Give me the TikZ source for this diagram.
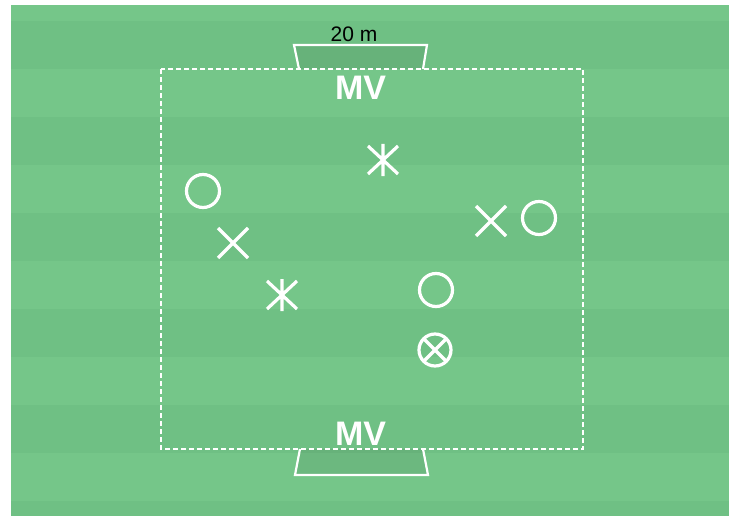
\documentclass[tikz,border=0pt]{standalone}
\usepackage{fontspec}
\setmainfont{Liberation Sans}
\usetikzlibrary{positioning}
\definecolor{pitchlight}{RGB}{117,198,137}
\definecolor{pitchdark}{RGB}{111,192,132}

\begin{document}
\begin{tikzpicture}[x=1pt, y=-1pt,
		player/.style={white, line width=3.2pt},
		goal/.style={draw=white, line width=2.2pt, fill=black, fill opacity=0.07},
		zone/.style={white, line width=1.3pt, dash pattern=on 5pt off 3pt},
		keeper/.style={white, font=\bfseries\fontsize{34}{34}\selectfont, inner sep=0pt, anchor=base}]
			\useasboundingbox (0,0) rectangle (739,516);
			\fill[pitchlight] (11,5) rectangle (729,516);
			\foreach \y in {21,117,...,501}
				\fill[pitchdark] (11,\y) rectangle (729,{min(\y+48,516)});
			\draw[goal] (299,69) -- (294,45) -- (427,45) -- (423,69);
			\draw[goal] (300,449) -- (295,475) -- (428,475) -- (423,449);
			\draw[zone] (161,69) rectangle (583,449);
			\node[keeper] (mvtop) at (360.5,100) {MV};
			\node[keeper] (mvbottom) at (360.5,445) {MV};
			\node[anchor=base, inner sep=0pt, font=\fontsize{21}{21}\selectfont] (dist) at (354,42) {20 m};
			% players
			\foreach \x/\y in {203/191, 539/218, 436/290}
				\draw[player] (\x,\y) circle (16.5);
			\foreach \x/\y in {233/243, 491/221}
				\draw[player] (\x-15,\y-15) -- (\x+15,\y+15) (\x-15,\y+15) -- (\x+15,\y-15);
			\foreach \x/\y in {282/295, 383/160}
				\draw[player] (\x,\y-16) -- (\x,\y+16) (\x-15,\y-14) -- (\x+15,\y+14) (\x-15,\y+14) -- (\x+15,\y-14);
			\draw[player] (435,350) circle (16) (435-11.3,350-11.3) -- (435+11.3,350+11.3) (435-11.3,350+11.3) -- (435+11.3,350-11.3);
		\end{tikzpicture}
\end{document}
